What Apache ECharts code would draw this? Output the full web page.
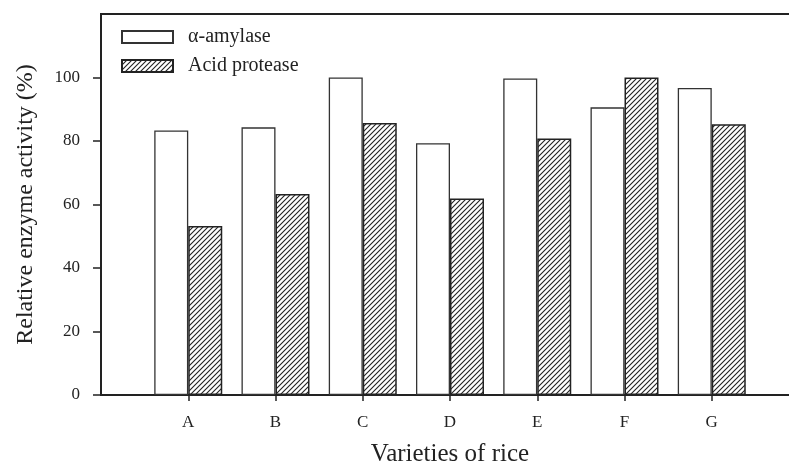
<!DOCTYPE html>
<html>
<head>
<meta charset="utf-8">
<script src="https://cdn.jsdelivr.net/npm/echarts@6/dist/echarts.min.js"></script>
<style>
html,body{margin:0;padding:0;background:#fff;}
#chart{width:789px;height:462px;}
</style>
</head>
<body>
<div id="chart"></div>
<script>
var categories = ['A', 'B', 'C', 'D', 'E', 'F', 'G'];
var alphaAmylase = [83.3, 84.3, 100.0, 79.3, 99.7, 90.6, 96.7];
var acidProtease = [53.2, 63.3, 85.7, 61.9, 80.8, 100.0, 85.3];
var yTicks = [0, 20, 40, 60, 80, 100];

// padded category list: empty slot at each end so that A sits one band from the axis
var axisCats = [''].concat(categories).concat(['']);
function pad(arr) { return [null].concat(arr).concat([null]); }

function hatch() {
  var c = document.createElement('canvas');
  c.width = 5; c.height = 5;
  var g = c.getContext('2d');
  g.fillStyle = '#fff';
  g.fillRect(0, 0, 5, 5);
  g.strokeStyle = '#222';
  g.lineWidth = 1.1;
  g.beginPath();
  g.moveTo(-1, 6); g.lineTo(6, -1);
  g.moveTo(-1, 1); g.lineTo(1, -1);
  g.moveTo(4, 6); g.lineTo(6, 4);
  g.stroke();
  return c;
}

var font = '"Liberation Serif", "Times New Roman", serif';
var chart = echarts.init(document.getElementById('chart'), null, {renderer: 'canvas'});
chart.setOption({
  animation: false,
  backgroundColor: '#fff',
  textStyle: {fontFamily: font, color: '#222'},
  grid: {left: 101, top: 14, width: 698, bottom: 67, outerBoundsMode: 'none', containLabel: false,
    show: true, borderColor: '#222', borderWidth: 2, backgroundColor: 'transparent'},
  legend: {
    left: 121, top: 27, padding: 0, orient: 'vertical', itemWidth: 51, itemHeight: 12, itemGap: 9,
    icon: 'rect',
    textStyle: {fontFamily: font, fontSize: 20, color: '#222', padding: [0, 0, 0, 10]},
    data: ['α-amylase', 'Acid protease']
  },
  xAxis: {
    type: 'category', data: axisCats, boundaryGap: false,
    name: 'Varieties of rice', nameLocation: 'middle', nameGap: 47,
    nameTextStyle: {fontFamily: font, fontSize: 25, color: '#222'},
    axisLine: {lineStyle: {color: '#222', width: 2}},
    axisTick: {show: true, length: 6, inside: false, lineStyle: {color: '#222', width: 1.5},
      interval: function (i, v) { return v !== ''; }},
    axisLabel: {interval: 0, margin: 19, fontFamily: font, fontSize: 17, color: '#222'},
    splitLine: {show: false}
  },
  yAxis: {
    type: 'value', min: 0, max: 120, interval: 20,
    name: 'Relative enzyme activity (%)', nameLocation: 'middle', nameGap: 63, nameRotate: 90,
    nameTextStyle: {fontFamily: font, fontSize: 24, color: '#222'},
    axisLine: {show: true, lineStyle: {color: '#222', width: 2}},
    axisTick: {show: true, length: 8, inside: false, customValues: yTicks, lineStyle: {color: '#222', width: 1.5}},
    axisLabel: {customValues: yTicks, margin: 21, fontFamily: font, fontSize: 17, color: '#222'},
    splitLine: {show: false}
  },
  series: [
    {
      name: 'α-amylase', type: 'bar', data: pad(alphaAmylase), barWidth: 34, barGap: '0%',
      itemStyle: {color: '#fff', borderColor: '#333', borderWidth: 1.3}
    },
    {
      name: 'Acid protease', type: 'bar', data: pad(acidProtease), barWidth: 34, barGap: '0%',
      itemStyle: {color: {image: hatch(), repeat: 'repeat'}, borderColor: '#222', borderWidth: 1.5}
    }
  ]
});
</script>
</body>
</html>
